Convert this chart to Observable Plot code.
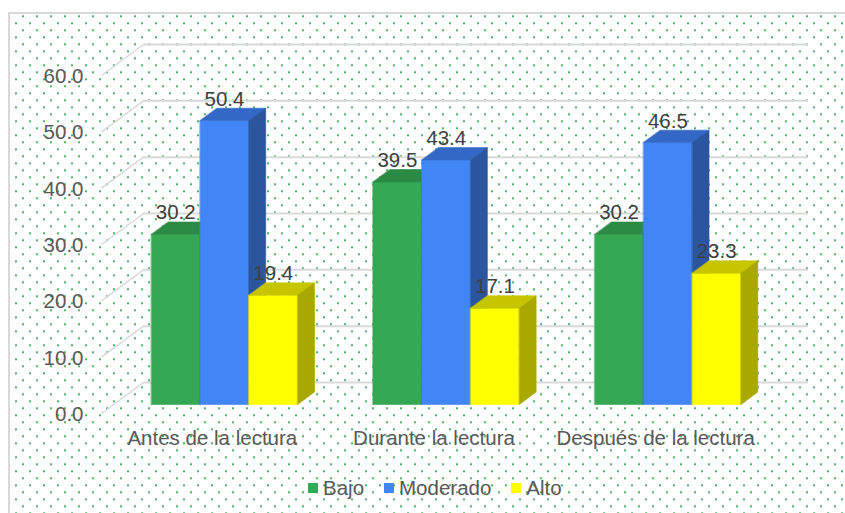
<!DOCTYPE html>
<html><head><meta charset="utf-8">
<script src="https://cdn.jsdelivr.net/npm/d3@7"></script>
<script src="https://cdn.jsdelivr.net/npm/@observablehq/plot@0.6"></script>
<style>
body{margin:0;background:#fff;}
#wrap{position:relative;width:845px;height:513px;overflow:hidden;font-family:"Liberation Sans",Arial,sans-serif;}
#bg{position:absolute;left:8px;top:12px;width:860px;height:520px;border-top:2px solid #d9d9d9;border-left:2px solid #d9d9d9;
background-image:radial-gradient(circle at 7px 7px,#33a852 0.6px,rgba(51,168,82,0) 1.4px),radial-gradient(circle at 7px 7px,#33a852 0.6px,rgba(51,168,82,0) 1.4px);
background-size:14px 14px,14px 14px;background-position:6px 9.3px,13px 2.3px;}
#plot{position:absolute;left:0;top:0;}
#legend{position:absolute;left:308px;top:478px;height:20px;display:flex;align-items:center;font-size:20.5px;color:#595959;white-space:nowrap;}
#legend .item{display:flex;align-items:center;margin-right:20px;}
#legend .sw{width:10px;height:10px;margin-right:5px;}
</style></head>
<body>
<div id="wrap"><div id="bg"></div><div id="plot"></div><div id="legend"></div></div>
<script>
const categories = ["Antes de la lectura", "Durante la lectura", "Después de la lectura"];
const series = ["Bajo", "Moderado", "Alto"];
const bajo = [30.2, 39.5, 30.2];
const moderado = [50.4, 43.4, 46.5];
const alto = [19.4, 17.1, 23.3];
const yTicks = [0, 10, 20, 30, 40, 50, 60];
const frontColors = ["#34A853", "#4285F4", "#FFFF00"];
const topColors = ["#2B8A44", "#3468C6", "#C6C600"];
const sideColors = ["#247239", "#2B559C", "#A8A800"];
const values = [bajo, moderado, alto];

// layout
const W = 845, H = 513;
const xRange = [101, 766], yRange = [413, 75];
const depthPx = [42, 31];
const kx = depthPx[0] / ((xRange[1] - xRange[0]) / categories.length);
const ky = depthPx[1] / ((yRange[0] - yRange[1]) / 60);
const d0 = 0.29, d1 = 0.69;
const barW = 0.22, inset = (1 - barW * series.length) / 2;
const P = (x, v, d) => ({x: x + d * kx, y: v + d * ky});

const polys = [];
const labels = [];
let id = 0;
categories.forEach((c, i) => {
  series.forEach((s, j) => {
    const v = values[j][i];
    const x0 = i + inset + j * barW, x1 = x0 + barW;
    const faces = [
      {fill: frontColors[j], pts: [P(x0, 0, d0), P(x1, 0, d0), P(x1, v, d0), P(x0, v, d0)]},
      {fill: topColors[j], pts: [P(x0, v, d0), P(x1, v, d0), P(x1, v, d1), P(x0, v, d1)]},
      {fill: sideColors[j], pts: [P(x1, 0, d0), P(x1, 0, d1), P(x1, v, d1), P(x1, v, d0)]}
    ];
    faces.forEach(f => { f.pts.forEach(p => polys.push({id, fill: f.fill, x: p.x, y: p.y})); id++; });
    const c0 = P((x0 + x1) / 2, v, d0);
    labels.push({x: c0.x, y: c0.y, text: v.toFixed(1)});
  });
});

const chart = Plot.plot({
  width: W, height: H,
  marginLeft: 0, marginRight: 0, marginTop: 0, marginBottom: 0,
  x: {type: "linear", domain: [0, categories.length], range: xRange, axis: null},
  y: {type: "linear", domain: [0, 60], range: yRange, axis: null},
  color: {type: "identity"},
  style: {background: "transparent", fontFamily: "'Liberation Sans', Arial, sans-serif", overflow: "visible"},
  marks: [
    Plot.ruleY(yTicks, {y: d => d + ky, x1: kx, x2: categories.length + kx, stroke: "#d9d9d9", strokeWidth: 2}),
    Plot.link(yTicks, {x1: 0, y1: d => d, x2: kx, y2: d => d + ky, stroke: "#d9d9d9", strokeWidth: 1.5}),
    Plot.line(polys, {x: "x", y: "y", z: "id", fill: "fill", stroke: "fill", strokeWidth: 0.6, curve: "linear-closed"}),
    Plot.text(yTicks, {x: 0, y: d => d, text: d => d.toFixed(1), textAnchor: "end", dx: -18, dy: 1, fontSize: 20.5, fill: "#595959"}),
    Plot.text(categories, {x: (d, i) => i + 0.5, y: 0, text: d => d, dy: 25, fontSize: 20.5, fill: "#595959"}),
    Plot.text(labels, {x: "x", y: "y", text: "text", dy: -21.5, fontSize: 20.5, fill: "#404040"})
  ]
});
document.getElementById("plot").appendChild(chart);

const legend = document.getElementById("legend");
series.forEach((s, j) => {
  const item = document.createElement("div");
  item.className = "item";
  item.innerHTML = `<div class="sw" style="background:${frontColors[j]}"></div><span>${s}</span>`;
  legend.appendChild(item);
});
</script>
</body></html>
